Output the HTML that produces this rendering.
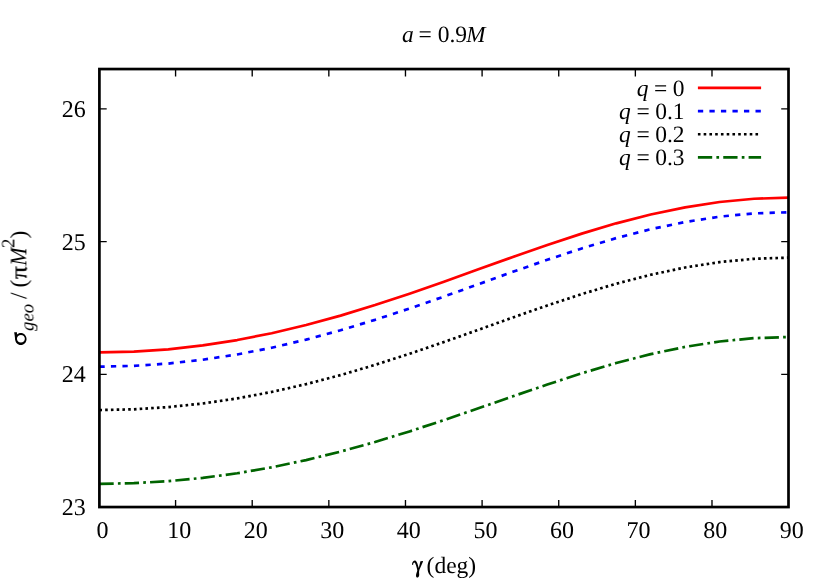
<!DOCTYPE html>
<html><head><meta charset="utf-8"><title>chart</title>
<style>html,body{margin:0;padding:0;background:#fff;}svg{display:block;}text{font-family:"Liberation Serif",serif;fill:#000;text-rendering:geometricPrecision;}</style></head><body>
<svg width="830" height="581" viewBox="0 0 830 581">
<rect x="0" y="0" width="830" height="581" fill="#fff"/>
<path d="M175.58 507.05 V499.9 M175.58 69.05 V76.6 M252.21 507.05 V499.9 M252.21 69.05 V76.6 M328.84 507.05 V499.9 M328.84 69.05 V76.6 M405.47 507.05 V499.9 M405.47 69.05 V76.6 M482.10 507.05 V499.9 M482.10 69.05 V76.6 M558.73 507.05 V499.9 M558.73 69.05 V76.6 M635.36 507.05 V499.9 M635.36 69.05 V76.6 M711.99 507.05 V499.9 M711.99 69.05 V76.6 M99.4 374.32 H106.70 M788.5 374.32 H781.20 M99.4 241.60 H106.70 M788.5 241.60 H781.20 M99.4 108.87 H106.70 M788.5 108.87 H781.20" stroke="#000" stroke-width="1.35" fill="none"/>
<polyline points="99.40,352.46 133.86,351.64 168.31,349.30 202.77,345.43 237.22,340.05 271.68,333.23 306.13,325.05 340.59,315.61 375.04,305.08 409.50,293.69 443.95,281.70 478.41,269.32 512.86,256.95 547.31,244.92 581.77,233.60 616.23,223.32 650.68,214.48 685.13,207.31 719.59,202.01 754.04,198.76 788.50,197.67" stroke="#ff0000" stroke-width="2.7" fill="none" stroke-linejoin="round"/>
<polyline points="99.40,366.66 133.86,365.85 168.31,363.55 202.77,359.75 237.22,354.45 271.68,347.72 306.13,339.64 340.59,330.29 375.04,319.84 409.50,308.52 443.95,296.57 478.41,284.21 512.86,271.83 547.31,259.78 581.77,248.42 616.23,238.09 650.68,229.20 685.13,221.99 719.59,216.65 754.04,213.37 788.50,212.27" stroke="#0000ff" stroke-width="2.7" fill="none" stroke-linejoin="round" stroke-dasharray="5.3 6.22"/>
<polyline points="99.40,410.06 133.86,409.29 168.31,407.10 202.77,403.48 237.22,398.41 271.68,391.95 306.13,384.14 340.59,375.08 375.04,364.89 409.50,353.79 443.95,342.03 478.41,329.79 512.86,317.49 547.31,305.48 581.77,294.10 616.23,283.73 650.68,274.77 685.13,267.49 719.59,262.09 754.04,258.78 788.50,257.66" stroke="#000000" stroke-width="2.7" fill="none" stroke-linejoin="round" stroke-dasharray="2.6 3.157"/>
<polyline points="99.40,483.86 133.86,483.16 168.31,481.18 202.77,477.89 237.22,473.27 271.68,467.33 306.13,460.09 340.59,451.61 375.04,441.99 409.50,431.43 443.95,420.14 478.41,408.30 512.86,396.32 547.31,384.54 581.77,373.32 616.23,363.04 650.68,354.14 685.13,346.87 719.59,341.47 754.04,338.15 788.50,337.03" stroke="#006400" stroke-width="2.7" fill="none" stroke-linejoin="round" stroke-dasharray="14.3 4.2 2.7 4.15"/>
<rect x="99.4" y="69.05" width="689.10" height="438.00" fill="none" stroke="#000" stroke-width="2.7"/>
<path d="M697.9 87.9 H761.1" stroke="#ff0000" stroke-width="2.7" fill="none"/>
<path d="M697.9 111.1 H761.1" stroke="#0000ff" stroke-width="2.7" fill="none" stroke-dasharray="5.3 6.22"/>
<path d="M697.9 134.25 H761.1" stroke="#000000" stroke-width="2.7" fill="none" stroke-dasharray="2.6 3.157"/>
<path d="M697.9 157.3 H761.1" stroke="#006400" stroke-width="2.7" fill="none" stroke-dasharray="14.3 4.2 2.7 4.15"/>
<path transform="translate(406,555) scale(0.04478)" d="M135,220 C132,170 155,125 195,122 C232,122 250,170 265,225 L285,290 L322,140 L380,133 L378,150 L300,330 C292,360 290,380 292,400 C300,440 295,500 255,503 C215,500 220,440 235,400 C245,375 250,360 252,340 C240,280 225,225 205,185 C190,160 165,160 158,222 Z" fill="#000"/>
<g transform="translate(8,324) scale(0.04819)"><path fill-rule="evenodd" fill="#000" d="M266,185 C332,185 385,240 385,310 C385,380 332,436 266,436 C200,436 148,380 148,310 C148,240 200,185 266,185 Z M268,229 C222,229 186,262 186,306 C186,350 222,386 268,386 C314,386 350,350 350,306 C350,262 314,229 268,229 Z"/><path fill="#000" d="M128,170 L186,170 L186,300 L150,330 L140,250 Z"/></g>
<g opacity="0.999">
<text x="636.73" y="95.80" font-size="23.5" font-style="italic">q</text>
<text x="654.02" y="95.80" font-size="23.5">=</text>
<text x="684.5" y="95.80" font-size="23.5" text-anchor="end">0</text>
<text x="619.10" y="119.00" font-size="23.5" font-style="italic">q</text>
<text x="636.40" y="119.00" font-size="23.5">=</text>
<text x="684.5" y="119.00" font-size="23.5" text-anchor="end">0.1</text>
<text x="619.10" y="142.15" font-size="23.5" font-style="italic">q</text>
<text x="636.40" y="142.15" font-size="23.5">=</text>
<text x="684.5" y="142.15" font-size="23.5" text-anchor="end">0.2</text>
<text x="619.10" y="165.20" font-size="23.5" font-style="italic">q</text>
<text x="636.40" y="165.20" font-size="23.5">=</text>
<text x="684.5" y="165.20" font-size="23.5" text-anchor="end">0.3</text>
<text x="85.7" y="515.05" font-size="24" text-anchor="end">23</text>
<text x="85.7" y="382.32" font-size="24" text-anchor="end">24</text>
<text x="85.7" y="249.60" font-size="24" text-anchor="end">25</text>
<text x="85.7" y="116.87" font-size="24" text-anchor="end">26</text>
<text x="102.60" y="538.3" font-size="24" text-anchor="middle">0</text>
<text x="179.17" y="538.3" font-size="24" text-anchor="middle">10</text>
<text x="255.73" y="538.3" font-size="24" text-anchor="middle">20</text>
<text x="332.30" y="538.3" font-size="24" text-anchor="middle">30</text>
<text x="408.87" y="538.3" font-size="24" text-anchor="middle">40</text>
<text x="485.43" y="538.3" font-size="24" text-anchor="middle">50</text>
<text x="562.00" y="538.3" font-size="24" text-anchor="middle">60</text>
<text x="638.57" y="538.3" font-size="24" text-anchor="middle">70</text>
<text x="715.13" y="538.3" font-size="24" text-anchor="middle">80</text>
<text x="791.70" y="538.3" font-size="24" text-anchor="middle">90</text>
<text x="402.1" y="42.3" font-size="23.5" font-style="italic">a</text>
<text x="418.5" y="42.3" font-size="23.5">=</text>
<text x="437.7" y="42.3" font-size="23.5">0.9</text>
<text x="466.3" y="42.3" font-size="23.1" font-style="italic">M</text>
<text x="426.6" y="572.6" font-size="23.5">(deg)</text>
<g transform="translate(26.4,346) rotate(-90)"><text x="15.0" y="7.4" font-size="18.8" font-style="italic">geo</text><text x="46.9" y="0" font-size="23.5">/</text><text x="58.6" y="0" font-size="23.5">(</text><text x="67.0" y="0" font-size="23.5" textLength="12.8" lengthAdjust="spacingAndGlyphs" stroke="#000" stroke-width="0.3">π</text><text x="80.2" y="0" font-size="23.5" font-style="italic" textLength="18.3" lengthAdjust="spacingAndGlyphs">M</text><text x="98.0" y="-11.9" font-size="18.8">2</text><text x="107.6" y="0" font-size="23.5">)</text></g>
</g>
</svg></body></html>
